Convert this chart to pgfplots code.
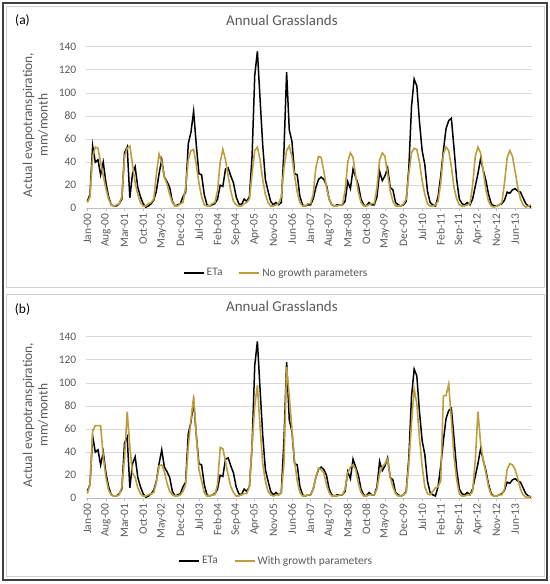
\documentclass[border=0pt]{standalone}
\usepackage{fontspec}
\setmainfont{Carlito}
\usepackage{pgfplots}
\usepackage{pgfplotstable}
\pgfplotsset{compat=1.18}
\definecolor{gold}{RGB}{188,158,58}
\definecolor{txtgray}{RGB}{89,89,89}
\definecolor{gridgray}{RGB}{217,217,217}
\definecolor{axgray}{RGB}{191,191,191}
\definecolor{framegray}{RGB}{208,208,208}
\definecolor{darkframe}{RGB}{64,64,64}

\pgfplotstableread{
m eta nog wg
0 6 5 4
1 12 10 12
2 54 45 58
3 40 53 63
4 42 52 63
5 29 40 63
6 40 28 36
7 22 17 18
8 10 8 7
9 3 3 3
10 2 2 2
11 2 3 2
12 4 4 3
13 8 10 10
14 48 45 35
15 53 52 75
16 9 54 45
17 30 38 22
18 36 22 18
19 18 12 9
20 10 5 4
21 4 2 2
22 1 2 2
23 2 4 3
24 4 5 4
25 7 8 5
26 15 30 14
27 30 47 28
28 42 40 29
29 27 27 23
30 23 21 13
31 18 12 6
32 6 5 3
33 2 2 2
34 3 2 2
35 4 4 3
36 10 5 6
37 14 18 12
38 56 42 45
39 66 50 68
40 84 51 88
41 55 38 55
42 30 22 25
43 29 10 15
44 12 3 5
45 3 2 2
46 2 2 2
47 3 4 3
48 4 5 3
49 8 15 12
50 20 40 44
51 19 51 43
52 34 42 32
53 35 28 20
54 28 15 10
55 22 6 5
56 10 3 2
57 4 2 2
58 3 2 3
59 8 4 4
60 6 5 4
61 10 8 10
62 45 30 45
63 115 50 80
64 136 53 98
65 95 42 62
66 55 25 30
67 25 12 15
68 15 5 6
69 6 2 3
70 3 2 2
71 5 3 3
72 3 4 3
73 5 10 5
74 50 35 30
75 118 50 114
76 68 54 88
77 58 45 60
78 30 28 32
79 29 14 15
80 10 5 5
81 3 2 2
82 2 2 2
83 3 4 3
84 3 4 3
85 8 12 8
86 18 35 18
87 25 45 26
88 27 44 25
89 25 32 22
90 20 18 12
91 8 8 5
92 3 3 2
93 2 2 2
94 3 2 2
95 3 3 3
96 3 3 3
97 6 15 8
98 23 40 22
99 17 48 27
100 34 44 29
101 27 28 25
102 20 14 13
103 8 5 5
104 3 2 2
105 2 2 2
106 5 3 3
107 3 4 3
108 3 4 3
109 10 18 8
110 32 42 22
111 24 48 27
112 28 45 30
113 35 30 34
114 18 15 18
115 16 6 10
116 5 2 4
117 3 2 2
118 2 2 2
119 3 4 3
120 6 8 5
121 35 30 30
122 88 48 65
123 112 52 95
124 106 51 82
125 75 40 52
126 50 24 28
127 38 12 10
128 15 4 4
129 5 2 3
130 3 2 6
131 2 3 9
132 10 6 10
133 28 22 15
134 50 47 89
135 69 53 89
136 76 50 99
137 78 36 68
138 52 18 36
139 25 8 16
140 8 3 4
141 4 2 2
142 3 2 2
143 5 3 3
144 3 4 3
145 8 20 6
146 19 45 33
147 30 53 75
148 43 48 48
149 33 32 33
150 24 16 22
151 12 6 10
152 4 2 3
153 2 1 2
154 2 2 2
155 3 3 3
156 4 5 3
157 7 22 8
158 14 44 25
159 13 50 30
160 16 45 29
161 17 32 25
162 15 18 17
163 14 8 8
164 9 3 3
165 4 1 1
166 2 2 1
167 1 3 2
}\data

\pgfplotsset{
  gpanel/.style={
    scale only axis,
    width=446.4bp, height=161.6bp,
    xmin=-0.5, xmax=167.5, ymin=0, ymax=140,
    ytick={0,20,...,140},
    xtick={0,7,...,161},
    xticklabels={Jan-00,Aug-00,Mar-01,Oct-01,May-02,Dec-02,Jul-03,Feb-04,Sep-04,Apr-05,Nov-05,Jun-06,Jan-07,Aug-07,Mar-08,Oct-08,May-09,Dec-09,Jul-10,Feb-11,Sep-11,Apr-12,Nov-12,Jun-13},
    axis x line=bottom, axis y line=left,
    y axis line style={draw=none},
    x axis line style={axgray, line width=0.8bp, -},
    ymajorgrids, grid style={gridgray, line width=0.6bp},
    ytick style={draw=none},
    xtick style={axgray, line width=0.6bp},
    xtick align=outside, major tick length=3bp,
    tick label style={font=\fontsize{11.5}{13}\selectfont, text=txtgray},
    x tick label style={rotate=90, anchor=east, inner sep=2bp},
    y tick label style={inner sep=2bp, xshift=-6bp},
    /pgf/number format/assume math mode=true,
    ylabel={Actual evapotranspiration,\\mm/month},
    ylabel style={align=center, font=\fontsize{13.5}{15.5}\selectfont, text=txtgray,
      at={(axis description cs:-0.113,0.515)}, anchor=center, rotate=0},
    legend columns=2,
    legend style={draw=none, fill=none, font=\fontsize{11.5}{13}\selectfont, text=txtgray,
      /tikz/every even column/.append style={column sep=14bp}},
    legend image code/.code={\draw[#1, line width=1.8bp] (0bp,0bp) -- (20bp,0bp);},
  }
}

\begin{document}
\begin{tikzpicture}
\path[use as bounding box] (0,0) rectangle (550bp,584bp);
\draw[framegray, line width=0.8bp] (6bp,297bp) rectangle (544bp,578bp);
\draw[framegray, line width=0.8bp] (6bp,8bp) rectangle (544bp,290bp);
\draw[darkframe, line width=1.5bp] (3bp,4bp) rectangle (547bp,581bp);

\begin{axis}[gpanel, at={(86bp,375.7bp)}, anchor=south west,
  title={Annual Grasslands},
  title style={at={(axis description cs:0.439,1.124)}, anchor=center, font=\fontsize{15}{17}\selectfont, text=txtgray},
  legend style={at={(axis description cs:0.426,-0.40)}, anchor=center}]
\addplot[black, line width=1.5bp] table[x=m, y=eta] {\data};
\addlegendentry{ETa}
\addplot[gold, line width=1.6bp] table[x=m, y=nog] {\data};
\addlegendentry{No growth parameters}
\end{axis}

\begin{axis}[gpanel, at={(86bp,85.7bp)}, anchor=south west,
  title={Annual Grasslands},
  title style={at={(axis description cs:0.439,1.149)}, anchor=center, font=\fontsize{15}{17}\selectfont, text=txtgray},
  legend style={at={(axis description cs:0.426,-0.388)}, anchor=center}]
\addplot[black, line width=1.5bp] table[x=m, y=eta] {\data};
\addlegendentry{ETa}
\addplot[gold, line width=1.6bp] table[x=m, y=wg] {\data};
\addlegendentry{With growth parameters}
\end{axis}

\node[font=\fontsize{13.5}{15}\selectfont] at (22.5bp,563bp) {(a)};
\node[font=\fontsize{13.5}{15}\selectfont] at (22.5bp,274bp) {(b)};
\end{tikzpicture}
\end{document}
